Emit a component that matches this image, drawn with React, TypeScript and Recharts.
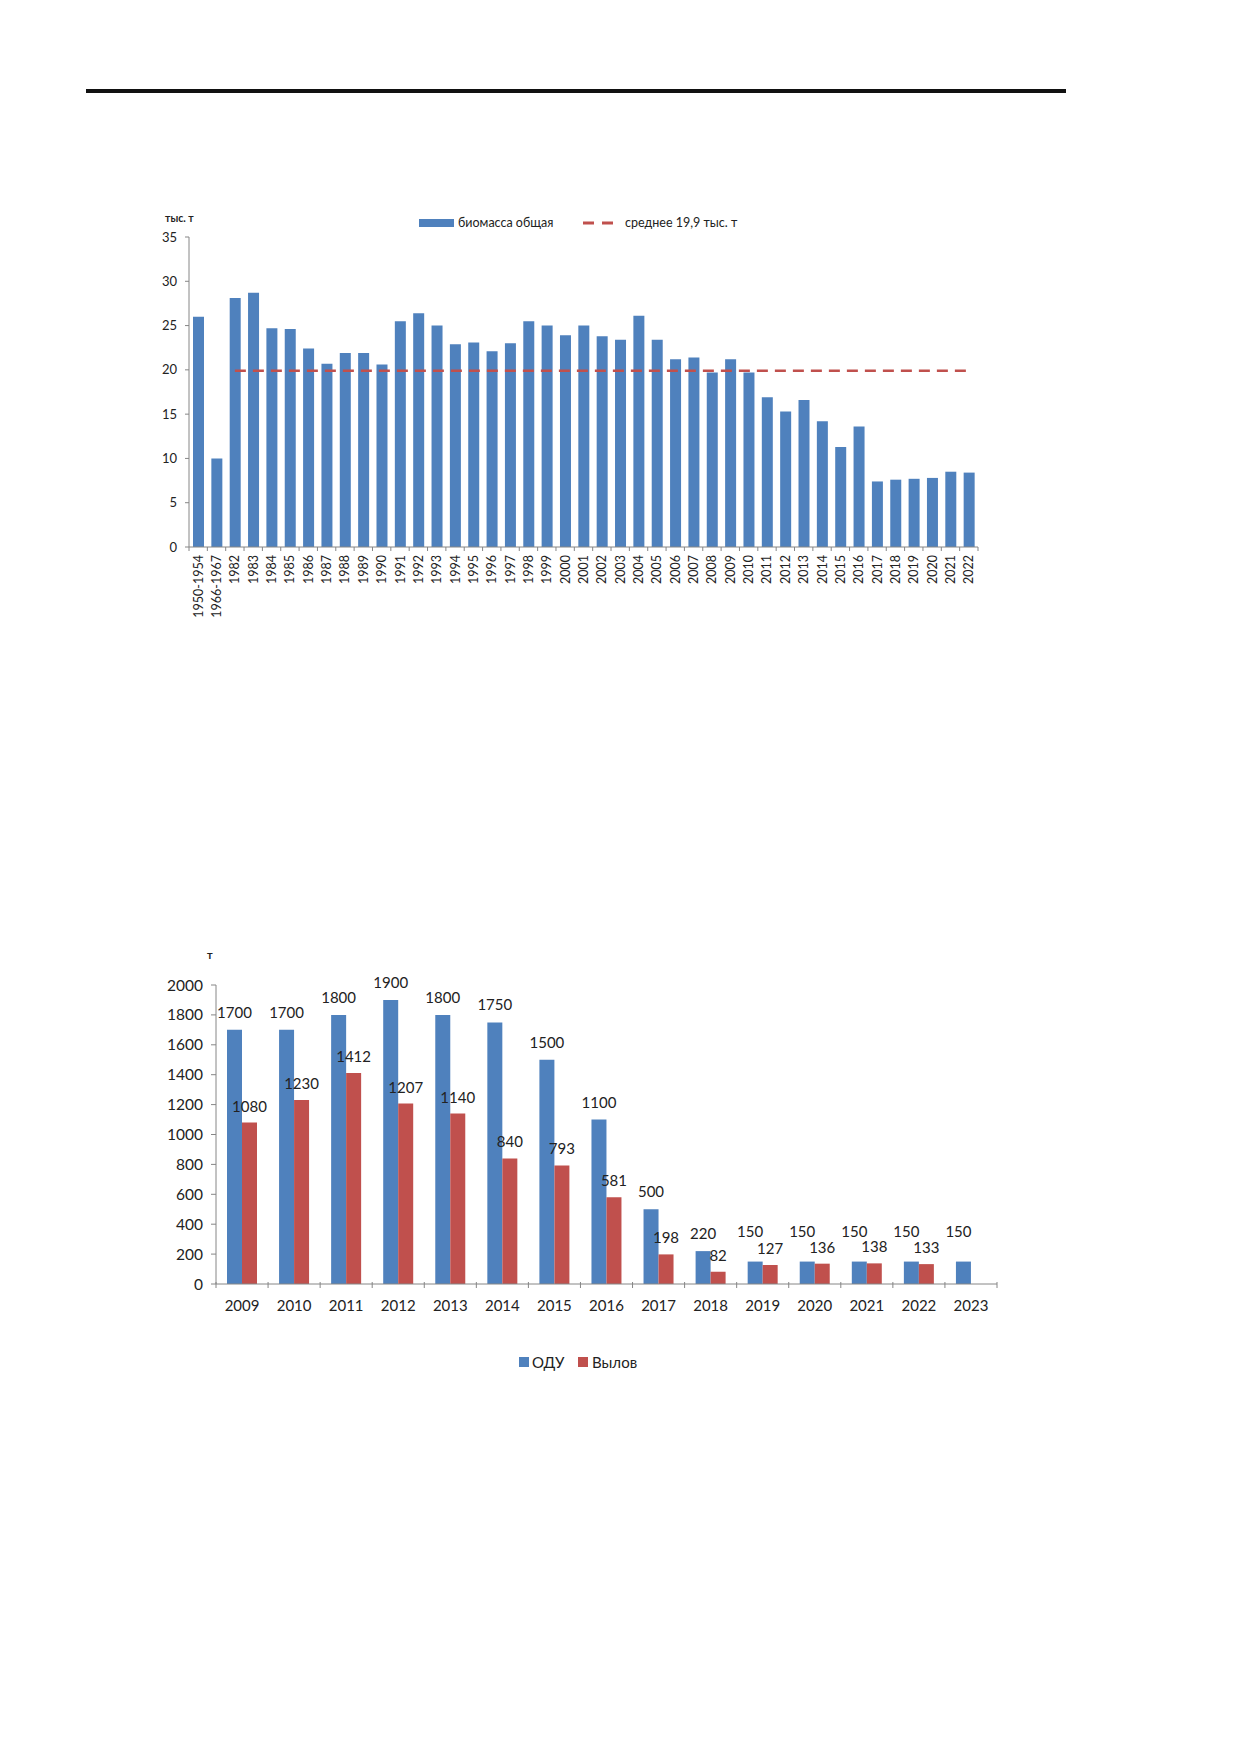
import React from 'react'
import {
  ComposedChart,
  BarChart,
  Bar,
  XAxis,
  YAxis,
  ReferenceLine,
  LabelList,
} from 'recharts'

// биомасса, тыс. т
const biomassYears = [
  '1950-1954', '1966-1967', '1982', '1983', '1984', '1985', '1986', '1987', '1988', '1989',
  '1990', '1991', '1992', '1993', '1994', '1995', '1996', '1997', '1998', '1999',
  '2000', '2001', '2002', '2003', '2004', '2005', '2006', '2007', '2008', '2009',
  '2010', '2011', '2012', '2013', '2014', '2015', '2016', '2017', '2018', '2019',
  '2020', '2021', '2022',
]
const biomassValues = [
  26.0, 10.0, 28.1, 28.7, 24.7, 24.6, 22.4, 20.7, 21.9, 21.9,
  20.6, 25.5, 26.4, 25.0, 22.9, 23.1, 22.1, 23.0, 25.5, 25.0,
  23.9, 25.0, 23.8, 23.4, 26.1, 23.4, 21.2, 21.4, 19.7, 21.2,
  19.7, 16.9, 15.3, 16.6, 14.2, 11.3, 13.6, 7.4, 7.6, 7.7,
  7.8, 8.5, 8.4,
]
const biomassTicks = [0, 5, 10, 15, 20, 25, 30, 35]
const MEAN_BIOMASS = 19.9
const MEAN_FROM = '1982'
const MEAN_TO = '2022'

// ОДУ и вылов, т
const catchYears = [
  '2009', '2010', '2011', '2012', '2013', '2014', '2015', '2016',
  '2017', '2018', '2019', '2020', '2021', '2022', '2023',
]
const oduValues = [1700, 1700, 1800, 1900, 1800, 1750, 1500, 1100, 500, 220, 150, 150, 150, 150, 150]
const catchValues = [1080, 1230, 1412, 1207, 1140, 840, 793, 581, 198, 82, 127, 136, 138, 133, null]
const catchTicks = [0, 200, 400, 600, 800, 1000, 1200, 1400, 1600, 1800, 2000]

const FONT = 'Lato, "Open Sans", sans-serif'
const BLUE = '#4F81BD'
const RED = '#C0504D'
const AXIS = '#868686'
const TEXT = '#222'

const biomassData = biomassYears.map((year, i) => ({ year, biomass: biomassValues[i] }))
const catchData = catchYears.map((year, i) => ({ year, odu: oduValues[i], catch: catchValues[i] }))

// chart 1 geometry
const C1_W = 920
const C1_H = 480
const C1_M = { top: 57, right: 42, left: 49, bottom: 33 }
const C1_Y_W = 40
const C1_STEP = (C1_W - C1_M.left - C1_Y_W - C1_M.right) / biomassYears.length

// chart 2 geometry
const C2_W = 900
const C2_H = 420
const C2_M = { top: 45, right: 33, left: 36, bottom: 36 }
const C2_Y_W = 50
const C2_STEP = (C2_W - C2_M.left - C2_Y_W - C2_M.right) / catchYears.length

// Excel-style ticks: marks between categories, label under centre
function BiomassTick(props: any) {
  const { x, y, payload, index } = props
  const half = C1_STEP / 2
  const last = index === biomassYears.length - 1
  return (
    <g>
      <line x1={x - half} x2={x - half} y1={y - 8} y2={y - 4} stroke={AXIS} />
      {last && <line x1={x + half} x2={x + half} y1={y - 8} y2={y - 4} stroke={AXIS} />}
      <text
        x={0}
        y={0}
        transform={`translate(${x},${y}) rotate(-90)`}
        textAnchor="end"
        dominantBaseline="central"
        fontSize={12.5}
        fontFamily={FONT}
        fill={TEXT}
      >
        {payload.value}
      </text>
    </g>
  )
}

function CatchTick(props: any) {
  const { x, y, payload, index } = props
  const half = C2_STEP / 2
  const last = index === catchYears.length - 1
  return (
    <g>
      <line x1={x - half} x2={x - half} y1={y - 2} y2={y + 4} stroke={AXIS} />
      {last && <line x1={x + half} x2={x + half} y1={y - 2} y2={y + 4} stroke={AXIS} />}
      <text
        x={x}
        y={y + 21}
        textAnchor="middle"
        dominantBaseline="central"
        fontSize={15}
        fontFamily={FONT}
        fill={TEXT}
      >
        {payload.value}
      </text>
    </g>
  )
}

// ОДУ labels: lifted and nudged left where they would collide with the catch label
function OduLabel(props: any) {
  const { x, y, width, value, index } = props
  const c = catchValues[index]
  const crowded = c == null || oduValues[index] - c < 100
  const cx = x + width / 2 - (crowded ? 5 : 0)
  const cy = y - (crowded ? 31 : 18)
  return (
    <text x={cx} y={cy} textAnchor="middle" dominantBaseline="central" fontSize={15} fontFamily={FONT} fill={TEXT}>
      {value}
    </text>
  )
}

function CatchLabel(props: any) {
  const { x, y, width, value } = props
  if (value == null) return null
  return (
    <text x={x + width / 2} y={y - 17} textAnchor="middle" dominantBaseline="central" fontSize={15} fontFamily={FONT} fill={TEXT}>
      {value}
    </text>
  )
}

export default function App() {
  return (
    <div style={{ position: 'absolute', left: 0, top: 0, width: 1240, height: 1754, background: '#fff', fontFamily: FONT }}>
      <div style={{ position: 'absolute', left: 86, top: 89, width: 980, height: 4, background: '#111' }} />

      {/* chart 1 */}
      <div style={{ position: 'absolute', left: 165, top: 212, fontSize: 10.5, fontWeight: 700, color: TEXT }}>тыс. т</div>
      <div style={{ position: 'absolute', left: 419, top: 219, width: 35, height: 8, background: BLUE }} />
      <div style={{ position: 'absolute', left: 458, top: 215, fontSize: 12.5, color: TEXT, lineHeight: '16px' }}>биомасса общая</div>
      <svg style={{ position: 'absolute', left: 583, top: 219 }} width={36} height={8}>
        <line x1={0} x2={32} y1={4} y2={4} stroke={RED} strokeWidth={3} strokeDasharray="11 8" />
      </svg>
      <div style={{ position: 'absolute', left: 625, top: 215, fontSize: 12.5, color: TEXT, lineHeight: '16px' }}>среднее 19,9 тыс. т</div>

      <div style={{ position: 'absolute', left: 100, top: 180 }}>
        <ComposedChart width={C1_W} height={C1_H} data={biomassData} margin={C1_M}>
          <XAxis
            dataKey="year"
            interval={0}
            height={80}
            axisLine={{ stroke: AXIS }}
            tickLine={false}
            tick={<BiomassTick />}
            tickMargin={0}
            tickSize={8}
          />
          <YAxis
            width={C1_Y_W}
            domain={[0, 35]}
            ticks={biomassTicks}
            interval={0}
            axisLine={{ stroke: AXIS }}
            tickLine={{ stroke: AXIS }}
            tickSize={4}
            tickMargin={8}
            tick={{ fill: TEXT, fontSize: 13, fontFamily: FONT }}
          />
          <Bar dataKey="biomass" fill={BLUE} barSize={11} isAnimationActive={false} />
          <ReferenceLine
            segment={[{ x: MEAN_FROM, y: MEAN_BIOMASS }, { x: MEAN_TO, y: MEAN_BIOMASS }]}
            stroke={RED}
            strokeWidth={2.5}
            strokeDasharray="11 7"
          />
        </ComposedChart>
      </div>

      {/* chart 2 */}
      <div style={{ position: 'absolute', left: 207, top: 948, fontSize: 11, fontWeight: 700, color: TEXT }}>т</div>
      <div style={{ position: 'absolute', left: 130, top: 940 }}>
        <BarChart width={C2_W} height={C2_H} data={catchData} margin={C2_M} barGap={0}>
          <XAxis
            dataKey="year"
            interval={0}
            height={40}
            axisLine={{ stroke: AXIS }}
            tickLine={false}
            tick={<CatchTick />}
            tickMargin={0}
            tickSize={0}
          />
          <YAxis
            width={C2_Y_W}
            domain={[0, 2000]}
            ticks={catchTicks}
            interval={0}
            axisLine={{ stroke: AXIS }}
            tickLine={{ stroke: AXIS }}
            tickSize={5}
            tickMargin={8}
            tick={{ fill: TEXT, fontSize: 15.5, fontFamily: FONT }}
          />
          <Bar dataKey="odu" fill={BLUE} barSize={15} isAnimationActive={false}>
            <LabelList dataKey="odu" content={<OduLabel />} />
          </Bar>
          <Bar dataKey="catch" fill={RED} barSize={15} isAnimationActive={false}>
            <LabelList dataKey="catch" content={<CatchLabel />} />
          </Bar>
        </BarChart>
      </div>

      <div style={{ position: 'absolute', left: 519, top: 1357, width: 10, height: 10, background: BLUE }} />
      <div style={{ position: 'absolute', left: 532, top: 1352, fontSize: 15, color: TEXT, lineHeight: '20px' }}>ОДУ</div>
      <div style={{ position: 'absolute', left: 578, top: 1357, width: 10, height: 10, background: RED }} />
      <div style={{ position: 'absolute', left: 592, top: 1352, fontSize: 15, color: TEXT, lineHeight: '20px' }}>Вылов</div>
    </div>
  )
}
